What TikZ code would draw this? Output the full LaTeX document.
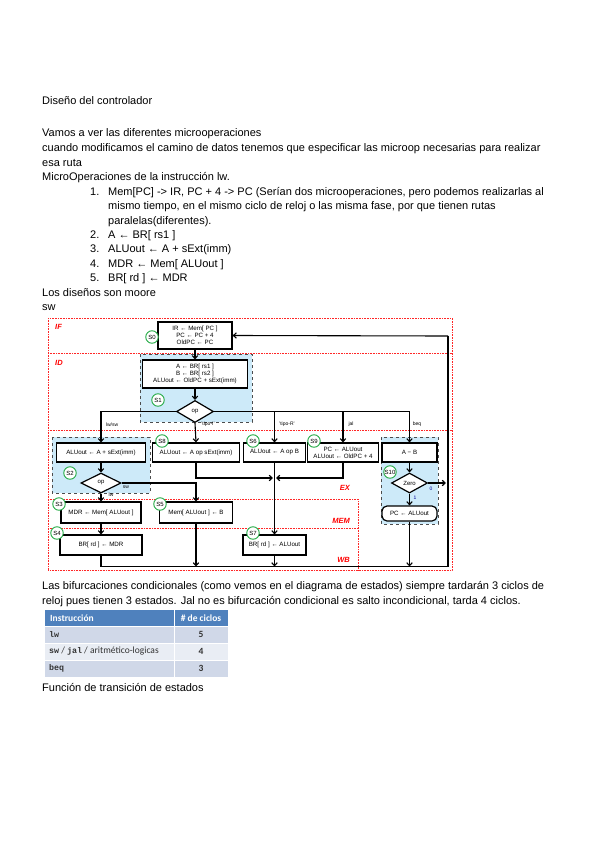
\documentclass[tikz,border=0pt]{standalone}
\usepackage{fontspec}
\setmainfont{Liberation Sans}
\newfontfamily\carlitof{Carlito}
\newfontfamily\monof{Liberation Mono}
\usetikzlibrary{shapes.geometric,arrows.meta}
\definecolor{rowA}{HTML}{D0D8E8}
\definecolor{rowB}{HTML}{E9EDF4}
\definecolor{headc}{HTML}{4F81BD}
\definecolor{bgblue}{HTML}{CDEAF9}
\definecolor{stgreen}{HTML}{22AA44}
\begin{document}
\begin{tikzpicture}[x=1pt,y=-1pt,
  txt/.style={anchor=base west, inner sep=0pt, font=\fontsize{11}{13}\selectfont},
  box/.style={draw, line width=1.2pt, fill=white, inner sep=0pt, align=center, font=\fontsize{6.2}{7.2}\selectfont},
  conn/.style={line width=1.1pt},
  arr/.style={conn, -{Straight Barb[length=3pt,width=5.5pt]}},
  st/.style={circle, draw=stgreen, line width=0.9pt, fill=white, minimum size=12.5pt, inner sep=0pt, font=\fontsize{6}{7}\selectfont},
  reg/.style={draw=red!85, densely dotted, line width=0.6pt},
  rlab/.style={text=red, anchor=east, inner sep=0pt, font=\bfseries\itshape\fontsize{7.5}{8}\selectfont},
  bbg/.style={fill=bgblue, draw=black!70, dashed, line width=0.6pt},
  dia/.style={diamond, draw, line width=1.2pt, fill=white, inner sep=0pt, font=\fontsize{6}{7}\selectfont},
  lab/.style={inner sep=0pt, font=\fontsize{5}{6}\selectfont},
  thead/.style={inner sep=0pt, text=white, font=\carlitof\bfseries\fontsize{9.5}{11}\selectfont},
  tnum/.style={inner sep=0pt, text=black!80, font=\carlitof\bfseries\fontsize{9.5}{11}\selectfont},
  tcode/.style={anchor=west, inner sep=0pt, text=black!80, font=\monof\bfseries\fontsize{8.3}{10}\selectfont}]
\useasboundingbox (0,0) rectangle (600,848);
\fill[white] (0,0) rectangle (600,848);

% ---- body text
\node[txt] (t1) at (42,105) {Diseño del controlador};
\node[txt] (t2) at (42,136) {Vamos a ver las diferentes microoperaciones};
\node[txt] (t3) at (42,151) {cuando modificamos el camino de datos tenemos que especificar las microop necesarias para realizar};
\node[txt] (t4) at (42,166) {esa ruta};
\node[txt] (t5) at (42,180.5) {MicroOperaciones de la instrucción lw.};
\node[txt] (n1) at (90,195) {1.};
\node[txt] (l1) at (108,195) {Mem[PC] -> IR, PC + 4 -> PC (Serían dos microoperaciones, pero podemos realizarlas al};
\node[txt] (l1b) at (108,209.5) {mismo tiempo, en el mismo ciclo de reloj o las misma fase, por que tienen rutas};
\node[txt] (l1c) at (108,224) {paralelas(diferentes).};
\node[txt] (n2) at (90,238) {2.};
\node[txt] (l2) at (108,238) {A ← BR[ rs1 ]};
\node[txt] (n3) at (90,252.5) {3.};
\node[txt] (l3) at (108,252.5) {ALUout ← A + sExt(imm)};
\node[txt] (n4) at (90,267) {4.};
\node[txt] (l4) at (108,267) {MDR ← Mem[ ALUout ]};
\node[txt] (n5) at (90,281.5) {5.};
\node[txt] (l5) at (108,281.5) {BR[ rd ] ← MDR};
\node[txt] (t6) at (42,296) {Los diseños son moore};
\node[txt] (t7) at (42,310.5) {sw};

% ---- regions
\draw[reg] (48,318) rectangle (452,570.5);
\draw[reg] (48,353) -- (452,353);
\draw[reg] (48,430.5) -- (452,430.5);
\draw[reg] (48,499) -- (358,499) -- (358,570.5);
\draw[reg] (48,528) -- (358,528);
\node[rlab, anchor=west] (rif) at (55,327) {IF};
\node[rlab, anchor=west] (rid) at (55,363) {ID};
\node[rlab] (rex) at (350,488) {EX};
\node[rlab] (rmem) at (350,521) {MEM};
\node[rlab] (rwb) at (350,560) {WB};

% ---- blue backgrounds
\draw[bbg] (140,354) rectangle (252,422);
\draw[bbg] (52,437) rectangle (150,493);
\draw[bbg] (381,437) rectangle (438,524);

% ---- boxes
\node[box, minimum width=74pt, minimum height=27pt] (s0) at (195,335.5) {IR ← Mem[ PC ]\\PC ← PC + 4\\OldPC ← PC};
\node[box, minimum width=105pt, minimum height=28pt] (s1) at (195,374) {A ← BR[ rs1 ]\\B ← BR[ rs2 ]\\ALUout ← OldPC + sExt(imm)};
\node[dia, minimum width=37pt, minimum height=22pt] (d1) at (195,411.5) {op};
\node[box, minimum width=89pt, minimum height=19pt] (s2) at (101,452.5) {ALUout ← A + sExt(imm)};
\node[dia, minimum width=40pt, minimum height=20pt] (d2) at (101,483) {op};
\node[box, minimum width=87pt, minimum height=19pt] (s8) at (196,452.5) {ALUout ← A op sExt(imm)};
\node[box, minimum width=62pt, minimum height=19pt] (s6) at (274.5,452.5) {ALUout ← A op B};
\node[box, minimum width=71pt, minimum height=19pt] (s9) at (343,452.5) {PC ← ALUout\\ALUout ← OldPC + 4};
\node[box, minimum width=55pt, minimum height=19pt] (s10) at (409.5,452.5) {A − B};
\node[dia, minimum width=36pt, minimum height=20pt] (d3) at (409.5,483) {Zero};
\node[box, rounded corners=5pt, minimum width=55pt, minimum height=15pt] (pc) at (409.5,513.5) {PC ← ALUout};
\node[box, minimum width=80pt, minimum height=21pt] (s3) at (101,512.5) {MDR ← Mem[ ALUout ]};
\node[box, minimum width=73pt, minimum height=21pt] (s5) at (196,512.5) {Mem[ ALUout ] ← B};
\node[box, minimum width=82pt, minimum height=20pt] (s4) at (101,545) {BR[ rd ] ← MDR};
\node[box, minimum width=63pt, minimum height=20pt] (s7) at (274.5,545) {BR[ rd ] ← ALUout};

% ---- connectors
\coordinate (jR) at (s6.north |- d1.east);
\coordinate (jJ) at (s9.north |- d1.east);
\coordinate (jB) at (s10.north |- d1.east);
\coordinate (mrg) at (274.5,478);
\coordinate (bL) at (101,566.5);
\coordinate (b5) at (196,566.5);
\coordinate (b7) at (274.5,566.5);
\coordinate (bB) at (409.5,566.5);
\coordinate (bR) at (448,566.5);
\coordinate (tR) at (448,336);
\coordinate (zo) at (446,483);

\draw[arr] (s0) -- (s1);
\draw[arr] (s1) -- (d1);
\draw[arr] (d1.west) -| (s2.north);
\draw[arr] (d1.south) -- (s8.north);
\draw[conn] (d1.east) -- (jB);
\draw[arr] (jR) -- (s6.north);
\draw[arr] (jJ) -- (s9.north);
\draw[arr] (jB) -- (s10.north);
\draw[arr] (s2) -- (d2);
\draw[arr] (d2.east) -| (s5.north);
\draw[arr] (d2.south) -- (s3.north);
\draw[arr] (s3) -- (s4);
\draw[arr] (s8.south) |- ([xshift=-1.5pt]mrg);
\draw[arr] (s9.south) |- ([xshift=1.5pt]mrg);
\draw[arr] (s6) -- (s7);
\draw[arr] (s10) -- (d3);
\draw[arr] (d3.east) -- (zo);
\draw[arr] (d3.south) -- (pc.north);
\draw[arr] (s5.south) -- (b5);
\draw[arr] (s7.south) -- (b7);
\draw[arr] (pc.south) -- (bB);
\draw[conn] (s4.south) -- (bL) -- (bR) -- (tR);
\draw[arr] (tR) -- (s0.east);

% ---- connector labels
\node[lab] (a1) at (112,424.5) {lw/sw};
\node[lab] (a2) at (208,424.5) {'tipo-I'};
\node[lab] (a3) at (287,424.5) {'tipo-R'};
\node[lab] (a4) at (351,424.5) {jal};
\node[lab] (a5) at (417,424.5) {beq};
\node[lab] (a6) at (126,487) {sw};
\node[lab] (a7) at (111,494.5) {lw};
\node[lab, text=blue!60!black] (a8) at (431,489) {0};
\node[lab, text=blue!60!black] (a9) at (415,497.5) {1};

% ---- state labels
\node[st] (c0) at (152,337) {S0};
\node[st] (c1) at (158,400) {S1};
\node[st] (c2) at (70,473) {S2};
\node[st] (c8) at (162,441) {S8};
\node[st] (c6) at (253,441) {S6};
\node[st] (c9) at (314,441) {S9};
\node[st] (c10) at (390,472) {S10};
\node[st] (c3) at (59,504) {S3};
\node[st] (c5) at (160,504) {S5};
\node[st] (c4) at (57,533) {S4};
\node[st] (c7) at (253,533) {S7};

% ---- text below
\node[txt] (t8) at (42,589) {Las bifurcaciones condicionales (como vemos en el diagrama de estados) siempre tardarán 3 ciclos de};
\node[txt] (t9) at (42,604) {reloj pues tienen 3 estados. Jal no es bifurcación condicional es salto incondicional, tarda 4 ciclos.};

% ---- table
\fill[headc] (45,609.5) rectangle (228,626);
\fill[rowA] (45,626) rectangle (228,643);
\fill[rowB] (45,643) rectangle (228,660);
\fill[rowA] (45,660) rectangle (228,677);
\draw[white, line width=0.8pt] (45,626) -- (228,626) (45,643) -- (228,643) (45,660) -- (228,660) (174,609.5) -- (174,677);
\node[thead, anchor=west] (h1) at (50,618) {Instrucción};
\node[thead] (h2) at (201,618) {\# de ciclos};
\node[tcode] (r1) at (49,634.5) {lw};
\node[anchor=west, inner sep=0pt, text=black!80, font=\carlitof\fontsize{9.5}{11}\selectfont] (r2) at (49,651.5) {{\monof\bfseries\fontsize{8.3}{10}\selectfont sw} / {\monof\bfseries\fontsize{8.3}{10}\selectfont jal} / aritmético-logicas};
\node[tcode] (r3) at (49,668.5) {beq};
\node[tnum] (v1) at (201,634.5) {5};
\node[tnum] (v2) at (201,651.5) {4};
\node[tnum] (v3) at (201,668.5) {3};

\node[txt] (t10) at (42,691.5) {Función de transición de estados};
\end{tikzpicture}
\end{document}
